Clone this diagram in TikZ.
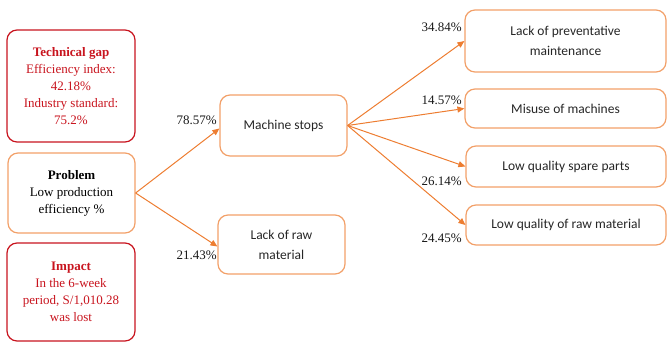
\documentclass[tikz,border=0pt]{standalone}
\usepackage{fontspec}
\setmainfont{Liberation Serif}
\newfontfamily\calibri{Carlito}
\usetikzlibrary{arrows.meta,positioning}
\definecolor{boxorange}{RGB}{242,160,105}
\definecolor{arroworange}{RGB}{237,125,49}
\definecolor{darkred}{RGB}{200,20,30}
\tikzset{
  x=1pt,y=-1pt,
  basebox/.style={rounded corners=10pt,line width=1.2pt,align=center,inner sep=2pt,
    font=\fontsize{13}{17}\selectfont},
  redbox/.style={basebox,draw=darkred,text=darkred},
  orangebox/.style={basebox,draw=boxorange},
  causebox/.style={orangebox,font=\calibri\fontsize{13.5}{20}\selectfont,text=black!85},
  link/.style={draw=arroworange,line width=1pt,-{Triangle[length=7pt,width=6pt]}},
  pct/.style={anchor=east,inner sep=0pt,font=\fontsize{13}{14}\selectfont,text=black!90}
}
\begin{document}
\begin{tikzpicture}
\useasboundingbox (0,0) rectangle (668,343);

% left column: gap, problem and impact
\node[redbox,minimum width=128pt,minimum height=112pt] (tech) at (71,86)
  {\textbf{Technical gap}\\Efficiency index:\\42.18\%\\Industry standard:\\75.2\%};
\node[orangebox,minimum width=127pt,minimum height=80pt] (prob) at (71.5,193)
  {\textbf{Problem}\\Low production\\efficiency \%};
\node[redbox,minimum width=128pt,minimum height=98pt] (impact) at (71,292)
  {\textbf{Impact}\\In the 6-week\\period, S/1,010.28\\was lost};

% first level causes
\node[causebox,minimum width=127pt,minimum height=61pt] (ms) at (283.5,125.5) {Machine stops};
\node[causebox,minimum width=127pt,minimum height=59pt] (lrm) at (281.5,244.5) {Lack of raw\\material};

% second level causes
\node[causebox,minimum width=201pt,minimum height=62pt] (r1) at (565.5,41) {Lack of preventative\\maintenance};
\node[causebox,minimum width=201pt,minimum height=39pt] (r2) at (565.5,108.5) {Misuse of machines};
\node[causebox,minimum width=200pt,minimum height=41pt] (r3) at (566,166.5) {Low quality spare parts};
\node[causebox,minimum width=200pt,minimum height=40pt] (r4) at (566,225) {Low quality of raw material};

% connectors
\draw[link] (prob.east) -- ([yshift=-3pt]ms.west);
\draw[link] (prob.east) -- ([yshift=-2pt]lrm.west);
\draw[link] (ms.east) -- (r1.west);
\draw[link] (ms.east) -- (r2.west);
\draw[link] (ms.east) -- (r3.west);
\draw[link] (ms.east) -- (r4.west);

% percentages
\node[pct] (p1) at (217,120) {78.57\%};
\node[pct] (p2) at (217,255) {21.43\%};
\node[pct] (p3) at (462,27) {34.84\%};
\node[pct] (p4) at (462,100) {14.57\%};
\node[pct] (p5) at (462,181) {26.14\%};
\node[pct] (p6) at (462,238) {24.45\%};
\end{tikzpicture}
\end{document}
